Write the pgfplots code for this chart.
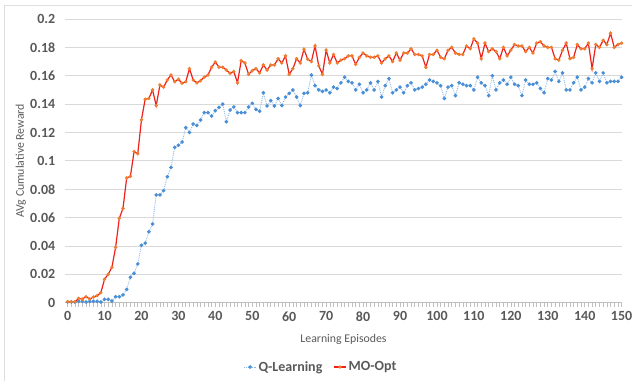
\documentclass[border=0pt]{standalone}
\usepackage{pgfplots}
\pgfplotsset{compat=1.18}
\usepackage{pgfplotstable}
\usepackage{fontspec}
\setmainfont{Carlito}
\definecolor{txt}{HTML}{595959}
\definecolor{redl}{HTML}{F0201A}
\definecolor{orgm}{HTML}{F07D2D}
\definecolor{bluem}{HTML}{4A8FD6}
\definecolor{bluel}{HTML}{8DB9E8}
\definecolor{gridc}{HTML}{D9D9D9}
\definecolor{axc}{HTML}{BFBFBF}

\pgfplotstableread{
x q m
0 0.0005 0.0007
1 0.0005 0.0007
2 0.0005 0.0007
3 0.0010 0.0030
4 0.0010 0.0026
5 0.0005 0.0042
6 0.0010 0.0026
7 0.0010 0.0040
8 0.0010 0.0050
9 0.0005 0.0070
10 0.0024 0.0165
11 0.0024 0.0200
12 0.0012 0.0250
13 0.0042 0.0390
14 0.0042 0.0595
15 0.0055 0.0665
16 0.0094 0.0880
17 0.0179 0.0890
18 0.0207 0.1065
19 0.0273 0.1050
20 0.0405 0.1290
21 0.0420 0.1434
22 0.0500 0.1440
23 0.0555 0.1500
24 0.0760 0.1390
25 0.0760 0.1535
26 0.0790 0.1520
27 0.0888 0.1570
28 0.0954 0.1605
29 0.1095 0.1558
30 0.1110 0.1575
31 0.1133 0.1547
32 0.1234 0.1558
33 0.1200 0.1650
34 0.1260 0.1570
35 0.1250 0.1550
36 0.1288 0.1565
37 0.1340 0.1590
38 0.1340 0.1605
39 0.1316 0.1660
40 0.1354 0.1697
41 0.1377 0.1660
42 0.1400 0.1660
43 0.1276 0.1640
44 0.1358 0.1617
45 0.1380 0.1630
46 0.1340 0.1550
47 0.1340 0.1706
48 0.1340 0.1690
49 0.1380 0.1610
50 0.1406 0.1636
51 0.1363 0.1650
52 0.1350 0.1620
53 0.1480 0.1676
54 0.1387 0.1640
55 0.1424 0.1676
56 0.1387 0.1676
57 0.1440 0.1720
58 0.1390 0.1690
59 0.1450 0.1740
60 0.1476 0.1610
61 0.1500 0.1650
62 0.1450 0.1720
63 0.1390 0.1690
64 0.1476 0.1787
65 0.1480 0.1717
66 0.1605 0.1700
67 0.1530 0.1810
68 0.1500 0.1670
69 0.1490 0.1610
70 0.1500 0.1780
71 0.1480 0.1690
72 0.1520 0.1750
73 0.1510 0.1690
74 0.1550 0.1710
75 0.1590 0.1720
76 0.1560 0.1740
77 0.1550 0.1740
78 0.1500 0.1680
79 0.1540 0.1730
80 0.1480 0.1760
81 0.1500 0.1740
82 0.1550 0.1730
83 0.1500 0.1730
84 0.1560 0.1740
85 0.1450 0.1690
86 0.1530 0.1720
87 0.1580 0.1740
88 0.1480 0.1700
89 0.1500 0.1760
90 0.1520 0.1710
91 0.1480 0.1760
92 0.1530 0.1760
93 0.1550 0.1790
94 0.1500 0.1750
95 0.1510 0.1750
96 0.1520 0.1740
97 0.1540 0.1660
98 0.1570 0.1750
99 0.1560 0.1750
100 0.1550 0.1780
101 0.1530 0.1730
102 0.1440 0.1720
103 0.1520 0.1780
104 0.1530 0.1800
105 0.1460 0.1760
106 0.1550 0.1750
107 0.1540 0.1750
108 0.1530 0.1810
109 0.1530 0.1790
110 0.1500 0.1860
111 0.1590 0.1830
112 0.1550 0.1720
113 0.1530 0.1830
114 0.1460 0.1770
115 0.1600 0.1790
116 0.1500 0.1770
117 0.1550 0.1720
118 0.1570 0.1800
119 0.1540 0.1740
120 0.1590 0.1780
121 0.1540 0.1820
122 0.1530 0.1810
123 0.1460 0.1810
124 0.1570 0.1770
125 0.1540 0.1800
126 0.1540 0.1760
127 0.1550 0.1830
128 0.1510 0.1840
129 0.1480 0.1810
130 0.1580 0.1800
131 0.1570 0.1800
132 0.1630 0.1720
133 0.1560 0.1710
134 0.1620 0.1780
135 0.1500 0.1830
136 0.1500 0.1720
137 0.1550 0.1730
138 0.1590 0.1820
139 0.1500 0.1790
140 0.1520 0.1790
141 0.1580 0.1830
142 0.1550 0.1650
143 0.1620 0.1820
144 0.1560 0.1800
145 0.1620 0.1850
146 0.1550 0.1820
147 0.1560 0.1900
148 0.1560 0.1800
149 0.1560 0.1820
150 0.1590 0.1830
}\data

\begin{document}
\begin{tikzpicture}[x=1pt,y=1pt]
\path[use as bounding box] (0,0) rectangle (632,381);
\draw[gray!25, line width=0.8pt] (4,0) -- (4,376) -- (632,376);
\begin{axis}[
  at={(65pt,78.3pt)}, anchor=south west,
  scale only axis, width=557pt, height=283.7pt,
  xmin=-0.7, xmax=150.1, ymin=0, ymax=0.2,
  axis x line*=bottom, axis y line*=left,
  y axis line style={draw=none},
  x axis line style={axc, line width=0.8pt},
  xtick={0,10,20,30,40,50,60,70,80,90,100,110,120,130,140,150},
  xticklabels={0,10,20,30,40,50,60,70,80,90,100,110,120,130,140,150},
  minor xtick={0,1,...,150},
  tick align=outside, major tick length=4pt, minor tick length=4pt,
  xtick style={axc, line width=0.6pt},
  minor x tick style={axc, line width=0.6pt},
  ytick={0,0.02,0.04,0.06,0.08,0.1,0.12,0.14,0.16,0.18,0.2},
  yticklabels={0,0.02,0.04,0.06,0.08,0.1,0.12,0.14,0.16,0.18,0.2},
  ytick style={draw=none},
  ymajorgrids, grid style={gridc, line width=0.8pt},
  ticklabel style={font=\fontsize{14}{14}\selectfont\bfseries, text=txt},
  yticklabel style={xshift=-2.2pt},
  xticklabel style={yshift=-1.5pt},
  xlabel={Learning Episodes}, ylabel={AVg Cumulative Reward},
  label style={font=\fontsize{11.8}{12}\selectfont, text=txt},
  xlabel style={at={(axis description cs:0.5,-0.128)}, anchor=center},
  ylabel style={at={(axis description cs:-0.0795,0.5)}, anchor=center},
  legend style={at={(axis description cs:0.4596,-0.2267)}, anchor=center,
    draw=none, fill=none, legend columns=2,
    font=\fontsize{14}{14}\selectfont\bfseries, text=txt,
    /tikz/every even column/.append style={column sep=9pt}},
  legend image code/.code={\draw[mark repeat=2,mark phase=2,#1] plot coordinates {(0pt,0pt)(6pt,0pt)(12pt,0pt)};},
]
\addplot[bluel, densely dotted, line width=0.9pt, mark=*, mark size=1.35pt,
  mark options={solid, fill=bluem, draw=bluem}] table[x=x,y=q]{\data};
\addlegendentry{Q-Learning}
\addplot[redl, line width=1.2pt, mark=*, mark size=1.05pt,
  mark options={solid, fill=orgm, draw=orgm}] table[x=x,y=m]{\data};
\addlegendentry{MO-Opt}
\end{axis}
\end{tikzpicture}
\end{document}
